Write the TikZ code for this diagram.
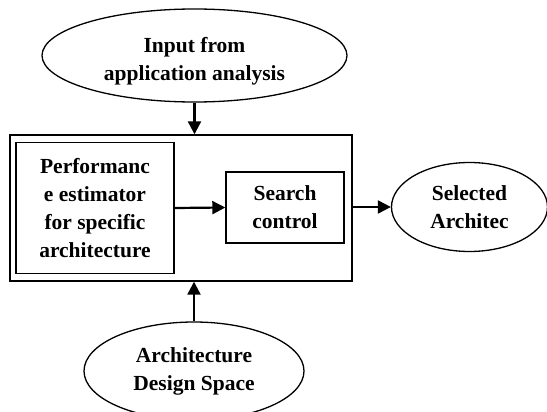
\documentclass[tikz,border=0pt]{standalone}
\usepackage{fontspec}
\setmainfont{Liberation Serif}
\usetikzlibrary{shapes.geometric,arrows.meta}
\begin{document}
\begin{tikzpicture}[x=1pt,y=-1pt,
  every node/.style={font=\bfseries\fontsize{21.5}{28}\selectfont, align=center, inner sep=0pt},
  oval/.style={draw, line width=1.3pt, ellipse},
  box/.style={draw, line width=1.4pt, rectangle},
  arr/.style={line width=2.2pt, -{Triangle[length=13pt,width=13pt]}}]
\useasboundingbox (0,0) rectangle (547,412);
\node[oval, minimum width=305pt, minimum height=93pt] (inp) at (194.5,55.5) {};
\node (inptext) at (194.5,61) {Input from\\application analysis};
\node[box, minimum width=342pt, minimum height=146pt] (outer) at (181,208) {};
\node[box, minimum width=158pt, minimum height=131pt] (perf) at (95,208) {Performanc\\e estimator\\for specific\\architecture};
\node[box, minimum width=118pt, minimum height=71pt] (search) at (285,207.5) {Search\\control};
\node[oval, minimum width=156pt, minimum height=89pt] (sel) at (469.5,207) {Selected\\Architec};
\node[oval, minimum width=220pt, minimum height=98pt] (ads) at (194,371) {Architecture\\Design Space};
\draw[arr] (inp.south) -- (inp.south |- outer.north);
\draw[arr] (ads.north) -- (ads.north |- outer.south);
\draw[arr] (perf.east) -- (search.west);
\draw[arr] (outer.east |- sel.west) -- (sel.west);
\end{tikzpicture}
\end{document}
